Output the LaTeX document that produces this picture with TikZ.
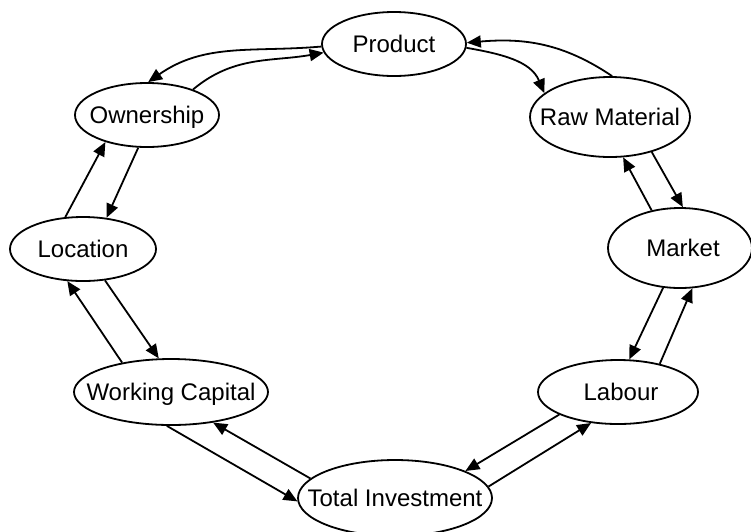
\documentclass[tikz,border=0pt]{standalone}
\usepackage{fontspec}
\setmainfont{Liberation Sans}
\usetikzlibrary{shapes.geometric,arrows.meta}
\begin{document}
\begin{tikzpicture}[x=1pt,y=1pt,
  el/.style={ellipse,draw,line width=1.8pt,inner sep=0pt,fill=white,
    text height=17pt,text depth=0pt,
    font=\fontsize{24}{28}\selectfont},
  conn/.style={line width=1.8pt,-{Triangle[length=14pt,width=12pt]}}]
\useasboundingbox (0,0) rectangle (751,-531);
\node[el,minimum width=144pt,minimum height=64pt] (prod) at (394,-44) {\makebox[0pt]{Product}};
\node[el,minimum width=144pt,minimum height=64pt] (own) at (147,-115) {\makebox[0pt]{Ownership}};
\node[el,minimum width=160pt,minimum height=80pt] (raw) at (610,-117) {\makebox[0pt]{Raw Material}};
\node[el,minimum width=144pt,minimum height=80pt] (mkt) at (680,-248) {\makebox[0pt]{\hspace*{6pt}Market}};
\node[el,minimum width=160pt,minimum height=64pt] (lab) at (618,-392) {\makebox[0pt]{\hspace*{6pt}Labour}};
\node[el,minimum width=194pt,minimum height=76pt] (ti) at (395,-498) {\makebox[0pt]{Total Investment}};
\node[el,minimum width=194pt,minimum height=66pt] (wc) at (171,-392) {\makebox[0pt]{Working Capital}};
\node[el,minimum width=146pt,minimum height=64pt] (loc) at (83,-249) {\makebox[0pt]{Location}};
% top curves
\draw[conn] (prod.182) to[out=185,in=35] (own.88);
\draw[conn] (own.29) to[out=40,in=190] (prod.187);
\draw[conn] (prod.-3) to[out=-10,in=113] (raw.160);
\draw[conn] (raw.87) to[out=146,in=5] (prod.1);
% straight pairs
\draw[conn] (raw.-40) -- (mkt.86);
\draw[conn] (mkt.127) -- (raw.-72);
\draw[conn] (mkt.-113) -- (lab.71);
\draw[conn] (lab.34) -- (mkt.-73);
\draw[conn] (lab.-159) -- (ti.21);
\draw[conn] (ti.7) -- (lab.-131);
\draw[conn] (wc.-97) -- (ti.182);
\draw[conn] (ti.167) -- (wc.-36);
\draw[conn] (loc.-55) -- (wc.110);
\draw[conn] (wc.149) -- (loc.-116);
\draw[conn] (loc.119) -- (own.-147);
\draw[conn] (own.-105) -- (loc.53);
\end{tikzpicture}
\end{document}
